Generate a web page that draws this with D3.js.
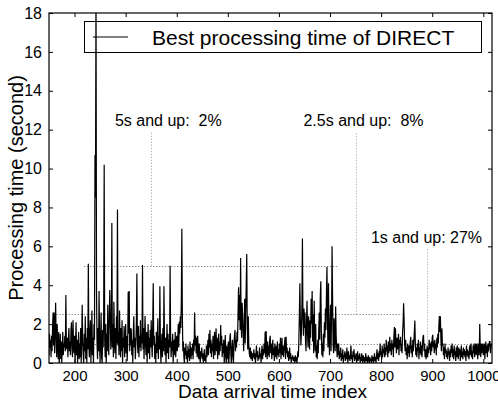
<!DOCTYPE html>
<html>
<head>
<meta charset="utf-8">
<script src="https://cdn.jsdelivr.net/npm/d3@7"></script>
<style>
  body { margin: 0; background: #fff; }
  text { font-family: "Liberation Sans", Arial, Helvetica, sans-serif; fill: #000; }
</style>
</head>
<body>
<div id="viz"></div>
<script>
(function () {
  // first data index, values follow one per index
  var startIndex = 150;
  var procTime = [
    0.4, 1.5, 0.8, 1.2, 0.3, 1.4, 0.6, 1.9, 2.6, 0.9,
    2.6, 0.5, 1.8, 3.1, 1.2, 0.3, 2.0, 1.0, 0.2, 1.6,
    0.0, 0.6, 1.5, 0.2, 1.1, 0.0, 0.7, 1.6, 0.4, 1.0,
    0.8, 1.4, 0.6, 3.5, 1.0, 0.7, 1.3, 0.3, 1.2, 1.8,
    0.6, 1.1, 0.4, 1.7, 2.1, 0.8, 0.3, 2.2, 1.0, 0.5,
    1.4, 0.0, 0.9, 2.1, 0.4, 1.2, 0.0, 0.8, 1.6, 0.2,
    1.0, 0.3, 1.8, 0.0, 1.2, 3.0, 1.1, 0.4, 0.0, 1.5,
    0.6, 2.4, 0.2, 1.3, 0.0, 1.8, 0.7, 5.1, 1.0, 0.3,
    1.6, 2.2, 0.0, 1.1, 2.7, 0.4, 1.3, 0.0, 2.0, 1.2,
    10.7, 8.5, 19.5, 3.7, 1.0, 0.2, 1.8, 0.6, 3.7, 0.9,
    0.0, 1.4, 2.6, 0.3, 0.0, 1.7, 0.8, 2.5, 10.2, 1.2,
    0.3, 2.0, 0.0, 1.5, 0.6, 3.0, 1.1, 0.4, 2.6, 3.75,
    2.2, 0.7, 1.4, 7.2, 0.8, 2.0, 0.3, 3.15, 1.2, 0.5,
    1.8, 0.2, 2.4, 1.0, 7.9, 0.9, 1.6, 0.4, 2.7, 1.3,
    0.3, 1.8, 0.6, 2.2, 0.0, 1.3, 0.8, 1.9, 0.3, 1.0,
    2.0, 0.5, 1.4, 0.1, 0.9, 3.67, 1.5, 3.7, 0.6, 1.8,
    0.9, 1.78, 0.4, 1.2, 0.0, 1.6, 2.4, 0.8, 1.3, 0.2,
    1.0, 2.1, 4.6, 1.2, 0.5, 1.9, 0.3, 1.4, 0.8, 2.2,
    0.6, 1.5, 1.0, 5.04, 0.7, 1.8, 0.2, 1.3, 2.42, 0.9,
    0.4, 1.6, 0.0, 1.1, 2.0, 0.5, 1.3, 0.2, 1.7, 0.8,
    2.2, 1.0, 0.3, 2.0, 4.1, 0.9, 1.4, 0.2, 1.0, 0.0,
    1.6, 0.5, 1.1, 2.3, 0.2, 1.4, 0.7, 3.95, 1.2, 0.0,
    0.8, 1.5, 0.3, 1.8, 0.6, 3.95, 1.1, 0.4, 1.3, 0.0,
    1.0, 2.0, 0.5, 1.5, 0.2, 1.2, 0.8, 5.0, 1.4, 0.3,
    1.1, 0.6, 1.5, 0.0, 0.9, 1.2, 0.4, 1.6, 0.3, 1.0,
    1.4, 0.6, 1.2, 2.0, 0.8, 2.12, 1.5, 2.4, 1.8, 3.2,
    6.9, 2.5, 0.6, 1.1, 0.3, 0.0, 0.8, 0.4, 1.0, 0.2,
    0.6, 0.0, 0.9, 0.3, 0.7, 0.1, 1.1, 0.5, 0.2, 0.8,
    0.4, 1.0, 0.2, 1.2, 0.6, 2.6, 0.9, 1.4, 0.5, 1.3,
    0.3, 1.4, 0.7, 0.2, 1.0, 0.4, 0.0, 0.6, 0.3, 0.8,
    0.2, 0.5, 0.0, 0.3, 0.7, 0.1, 0.4, 0.0, 0.9, 0.3,
    0.6, 1.2, 0.4, 1.5, 0.8, 1.7, 0.5, 1.2, 0.3, 1.0,
    0.6, 1.4, 0.2, 0.9, 1.6, 0.4, 1.0, 1.78, 0.6, 1.3,
    0.2, 0.8, 1.5, 0.4, 1.1, 0.6, 1.95, 0.9, 1.4, 0.3,
    1.0, 0.5, 1.2, 0.0, 0.7, 1.44, 0.3, 0.0, 0.9, 0.4,
    0.2, 1.1, 0.0, 0.6, 1.3, 1.53, 0.4, 0.0, 0.8, 1.2,
    0.3, 0.0, 1.0, 1.4, 1.7, 0.6, 1.2, 0.8, 1.6, 1.1,
    2.6, 3.9, 2.2, 3.5, 1.7, 5.4, 2.1, 1.3, 3.1, 2.4,
    1.5, 0.6, 2.0, 3.3, 1.0, 2.7, 4.0, 5.6, 1.8, 0.7,
    2.4, 1.0, 0.5, 0.3, 0.8, 0.2, 0.6, 0.4, 0.1, 0.5,
    0.3, 0.7, 0.2, 0.5, 0.0, 0.4, 0.9, 0.3, 0.6, 0.1,
    0.4, 0.2, 0.8, 0.3, 0.5, 0.0, 0.6, 0.9, 0.2, 0.7,
    0.4, 1.0, 0.5, 1.6, 0.3, 1.65, 0.8, 0.2, 1.1, 0.4,
    0.9, 0.3, 1.2, 1.4, 0.5, 1.0, 0.2, 0.7, 1.2, 0.4,
    0.8, 0.1, 1.0, 0.3, 0.6, 0.9, 0.2, 1.1, 0.4, 0.7,
    0.3, 1.0, 0.5, 1.3, 0.2, 0.8, 1.3, 0.4, 0.9, 0.3,
    0.6, 1.0, 1.33, 0.2, 1.35, 0.5, 0.8, 0.3, 0.6, 0.1,
    0.4, 0.8, 0.2, 0.5, 0.0, 0.3, 0.2, 0.4, 0.1, 0.3,
    0.2, 0.0, 0.4, 0.1, 0.3, 0.0, 0.2, 0.6, 0.3, 1.2,
    2.5, 4.1, 2.0, 0.9, 1.6, 3.0, 6.4, 2.3, 1.4, 2.8,
    1.8, 2.6, 1.2, 0.6, 2.1, 3.2, 1.5, 0.8, 2.4, 1.9,
    0.7, 2.2, 1.3, 3.3, 2.0, 3.7, 1.1, 2.5, 0.5, 3.2,
    1.4, 0.6, 2.0, 0.3, 0.9, 0.2, 1.2, 0.5, 1.8, 2.6,
    1.2, 3.5, 4.2, 1.6, 0.4, 1.0, 0.3, 1.5, 0.6, 2.1,
    1.3, 2.8, 1.7, 3.6, 4.95, 2.2, 0.8, 4.1, 1.5, 0.4,
    1.9, 3.0, 0.6, 2.4, 6.0, 3.4, 1.0, 0.5, 2.3, 1.2,
    0.6, 2.9, 1.4, 0.8, 0.3, 1.0, 0.4, 1.0, 0.2, 0.6,
    0.3, 0.8, 0.1, 0.5, 0.2, 0.7, 0.0, 0.4, 0.3, 0.6,
    0.1, 0.5, 0.2, 0.8, 0.3, 0.0, 0.6, 0.2, 0.4, 0.1,
    0.5, 0.9, 0.2, 0.4, 0.0, 0.6, 0.3, 0.7, 0.1, 0.4,
    0.2, 0.5, 0.0, 0.3, 0.6, 0.1, 0.4, 0.2, 0.5, 0.0,
    0.3, 0.1, 0.5, 0.2, 0.0, 0.4, 0.1, 0.3, 0.0, 0.2,
    0.5, 0.1, 0.3, 0.0, 0.2, 0.4, 0.1, 0.0, 0.3, 0.1,
    0.2, 0.0, 0.4, 0.1, 0.3, 0.0, 0.2, 0.5, 0.1, 0.3,
    0.0, 0.4, 0.7, 0.2, 0.5, 0.1, 0.6, 0.3, 1.0, 0.4,
    0.6, 0.2, 0.9, 0.3, 0.7, 0.5, 1.0, 0.3, 0.8, 0.4,
    1.2, 0.6, 0.9, 0.3, 1.1, 0.5, 0.8, 1.35, 0.6, 1.0,
    0.4, 1.2, 0.7, 1.0, 0.3, 1.4, 1.85, 0.8, 1.78, 1.1,
    0.5, 1.3, 0.7, 1.0, 1.5, 0.4, 1.2, 0.9, 1.35, 0.6,
    1.0, 0.5, 1.6, 2.0, 3.07, 2.2, 1.0, 0.6, 1.2, 0.4,
    0.8, 0.2, 1.0, 0.5, 0.9, 0.3, 0.7, 1.1, 1.35, 0.5,
    0.9, 0.3, 1.2, 0.6, 1.0, 1.6, 2.18, 1.0, 0.4, 0.8,
    0.3, 1.0, 0.6, 1.2, 0.2, 0.8, 0.5, 1.1, 0.4, 0.9,
    0.3, 1.0, 1.35, 1.44, 0.6, 1.0, 0.3, 0.7, 0.2, 0.5,
    0.9, 0.3, 0.8, 0.5, 1.2, 0.7, 1.0, 0.4, 1.1, 0.6,
    1.3, 1.45, 0.8, 1.1, 0.5, 1.2, 0.7, 1.0, 0.4, 1.3,
    0.8, 1.5, 1.0, 1.9, 2.42, 1.6, 2.4, 1.2, 0.6, 1.78,
    0.9, 1.0, 0.4, 0.8, 0.2, 1.0, 0.5, 0.7, 0.3, 0.6,
    0.2, 0.8, 0.4, 0.6, 0.1, 0.7, 0.3, 0.9, 0.5, 1.0,
    0.3, 0.7, 0.2, 0.9, 0.4, 0.6, 0.1, 0.8, 0.3, 0.9,
    0.5, 0.2, 0.8, 0.4, 0.7, 0.1, 0.5, 0.9, 0.3, 0.6,
    0.2, 0.8, 0.4, 0.7, 0.3, 0.6, 0.1, 0.9, 0.4, 0.7,
    0.3, 0.6, 0.2, 0.8, 0.9, 0.4, 1.0, 0.3, 0.6, 0.2,
    0.9, 0.5, 1.0, 0.3, 0.7, 1.0, 0.4, 0.8, 1.0, 0.2,
    0.6, 1.0, 0.4, 2.0, 0.8, 0.3, 1.0, 0.5, 0.9, 1.0,
    0.4, 0.8, 1.0, 0.2, 0.7, 1.1, 0.5, 0.9, 0.3, 1.0,
    0.6, 0.9, 1.1, 1.1, 0.5, 0.8, 1.0
  ];

  var xTicks = [200, 300, 400, 500, 600, 700, 800, 900, 1000];
  var yTicks = [0, 2, 4, 6, 8, 10, 12, 14, 16, 18];

  // threshold annotations: level, label, index of vertical marker, span of the level line, top of marker, label position
  var thrLevel  = [5, 2.5, 1];
  var thrLabel  = ['5s and up:  2%', '2.5s and up:  8%', '1s and up: 27%'];
  var thrMarkX  = [350, 750, 889];
  var thrFrom   = [219, 165, 175];
  var thrTo     = [714, 841, 1017];
  var thrTop    = [11.9, 11.9, 5.9];
  var thrTextX  = [279, 648, 780];
  var thrTextY  = [12.2, 12.2, 6.17];

  var legendLabel = 'Best processing time of DIRECT';

  var width = 498, height = 402;
  var margin = {left: 49, right: 6, top: 13, bottom: 39};

  var svg = d3.select('#viz').append('svg')
    .attr('width', width)
    .attr('height', height);

  var x = d3.scaleLinear()
    .domain([150, 1017])
    .range([margin.left, width - margin.right]);
  var y = d3.scaleLinear()
    .domain([0, 18])
    .range([height - margin.bottom, margin.top]);

  var x0 = x.range()[0], x1 = x.range()[1];
  var y0 = y.range()[0], y1 = y.range()[1];

  svg.append('clipPath').attr('id', 'plotclip')
    .append('rect')
    .attr('x', x0).attr('y', y1)
    .attr('width', x1 - x0).attr('height', y0 - y1);

  // legend box sits under the data (the big spike passes over it)
  var lg = svg.append('g');
  lg.append('rect')
    .attr('x', 84.5).attr('y', 21.5)
    .attr('width', 397).attr('height', 31)
    .attr('fill', '#fff').attr('stroke', '#000').attr('stroke-width', 1);
  lg.append('line')
    .attr('x1', 93).attr('x2', 128).attr('y1', 37).attr('y2', 37)
    .attr('stroke', '#000').attr('stroke-width', 1);
  lg.append('text')
    .attr('x', 152).attr('y', 45)
    .style('font-size', '21px')
    .text(legendLabel);

  // dotted threshold guides
  var guides = svg.append('g')
    .attr('fill', 'none')
    .attr('stroke', '#666')
    .attr('stroke-width', 1)
    .attr('stroke-dasharray', '1,2');
  thrLevel.forEach(function (lv, k) {
    guides.append('line')
      .attr('x1', x(thrFrom[k])).attr('x2', x(thrTo[k]))
      .attr('y1', Math.round(y(lv)) + 0.5).attr('y2', Math.round(y(lv)) + 0.5);
    guides.append('line')
      .attr('stroke', '#999')
      .attr('x1', Math.round(x(thrMarkX[k])) + 0.5).attr('x2', Math.round(x(thrMarkX[k])) + 0.5)
      .attr('y1', y(lv)).attr('y2', y(thrTop[k]));
    svg.append('text')
      .attr('x', x(thrTextX[k])).attr('y', y(thrTextY[k]))
      .style('font-size', '16px')
      .style('white-space', 'pre')
      .text(thrLabel[k]);
  });

  var line = d3.line()
    .x(function (d, i) { return x(startIndex + i); })
    .y(function (d) { return y(d); });

  svg.append('path')
    .datum(procTime)
    .attr('clip-path', 'url(#plotclip)')
    .attr('fill', 'none')
    .attr('stroke', '#000')
    .attr('stroke-width', 1.2)
    .attr('stroke-linejoin', 'miter')
    .attr('d', line);

  // axes with inward ticks on all four sides (matlab style)
  function styleAxis(g) {
    g.select('.domain').remove();
    g.selectAll('line').attr('stroke', '#000');
    g.selectAll('text').style('font-size', '16px').style('font-family', '"Liberation Sans", Arial, sans-serif');
  }

  svg.append('g')
    .attr('transform', 'translate(0,' + y0 + ')')
    .call(d3.axisBottom(x).tickValues(xTicks).tickSize(-4).tickFormat(d3.format('d')))
    .call(styleAxis)
    .selectAll('text').attr('dy', null).attr('y', 18).style('font-size', '15px');

  svg.append('g')
    .attr('transform', 'translate(0,' + y1 + ')')
    .call(d3.axisTop(x).tickValues(xTicks).tickSize(-4).tickFormat(''))
    .call(styleAxis);

  svg.append('g')
    .attr('transform', 'translate(' + x0 + ',0)')
    .call(d3.axisLeft(y).tickValues(yTicks).tickSize(-4).tickPadding(7))
    .call(styleAxis);

  svg.append('g')
    .attr('transform', 'translate(' + x1 + ',0)')
    .call(d3.axisRight(y).tickValues(yTicks).tickSize(-4).tickFormat(''))
    .call(styleAxis);

  svg.append('rect')
    .attr('x', x0).attr('y', y1)
    .attr('width', x1 - x0).attr('height', y0 - y1)
    .attr('fill', 'none').attr('stroke', '#000').attr('stroke-width', 1.2);

  svg.append('text')
    .attr('x', (x0 + x1) / 2 + 2).attr('y', 398)
    .attr('text-anchor', 'middle')
    .style('font-size', '19px')
    .text('Data arrival time index');

  svg.append('text')
    .attr('transform', 'translate(22.5,' + ((y0 + y1) / 2) + ') rotate(-90)')
    .attr('text-anchor', 'middle')
    .style('font-size', '20px')
    .text('Processing time (second)');
})();
</script>
</body>
</html>
